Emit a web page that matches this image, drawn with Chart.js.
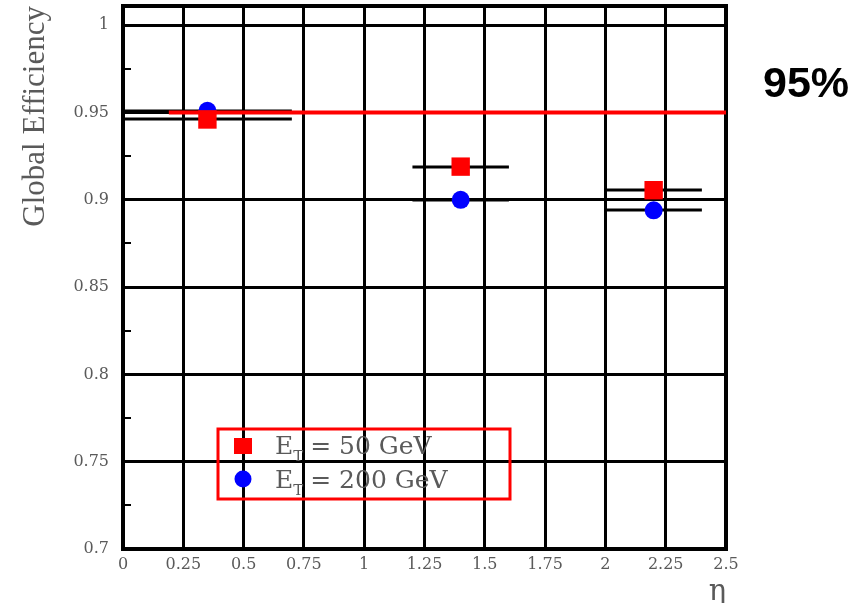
<!DOCTYPE html>
<html>
<head>
<meta charset="utf-8">
<script src="https://cdn.jsdelivr.net/npm/chart.js@4.4.1/dist/chart.umd.min.js"></script>
<style>
  html, body { margin: 0; padding: 0; background: #fff; }
  #wrap { width: 860px; height: 603px; }
</style>
</head>
<body>
<div id="wrap"><canvas id="effChart" width="860" height="603"></canvas></div>
<script>
// eta bins and their horizontal error bars
const etaCentres = [0.35, 1.4, 2.2];
const etaLow = [0.0, 1.2, 2.0];
const etaHigh = [0.7, 1.6, 2.4];

// global efficiency per bin
const eff50 = [0.946, 0.919, 0.9055];
const eff200 = [0.951, 0.9, 0.894];

// 95% reference line
const targetEff = 0.95;
const targetFrom = 0.19;
const targetTo = 2.5;

// axis ticks
const xTicks = [0, 0.25, 0.5, 0.75, 1, 1.25, 1.5, 1.75, 2, 2.25, 2.5];
const yTicks = [0.7, 0.75, 0.8, 0.85, 0.9, 0.95, 1];
const yMinor = [0.725, 0.775, 0.825, 0.875, 0.925, 0.975];

const serif = 'DejaVu Serif';
const grey = '#5a5a5a';

const toPoints = (ys) => etaCentres.map((x, i) => ({ x: x, y: ys[i] }));

// horizontal error bars, frame, minor ticks, legend and the 95% label
const extras = {
    id: 'extras',
    beforeDatasetsDraw(chart) {
        const ctx = chart.ctx;
        const xs = chart.scales.x, ys = chart.scales.y;
        ctx.save();
        ctx.strokeStyle = '#000';
        ctx.lineWidth = 3;
        [eff50, eff200].forEach(series => {
            series.forEach((v, i) => {
                const py = Math.round(ys.getPixelForValue(v));
                ctx.beginPath();
                ctx.moveTo(xs.getPixelForValue(etaLow[i]), py);
                ctx.lineTo(xs.getPixelForValue(etaHigh[i]), py);
                ctx.stroke();
            });
        });
        // minor ticks on the left axis
        ctx.lineWidth = 2;
        const a = chart.chartArea;
        yMinor.forEach(v => {
            const py = Math.round(ys.getPixelForValue(v));
            ctx.beginPath();
            ctx.moveTo(a.left, py);
            ctx.lineTo(a.left + 8, py);
            ctx.stroke();
        });
        // frame
        ctx.lineWidth = 4;
        ctx.strokeRect(a.left, a.top, a.right - a.left, a.bottom - a.top);
        ctx.restore();
    },
    afterDraw(chart) {
        const ctx = chart.ctx;
        ctx.save();
        // legend box
        ctx.strokeStyle = '#ff0000';
        ctx.lineWidth = 3;
        ctx.strokeRect(218, 429, 292, 70);
        ctx.fillStyle = '#ff0000';
        ctx.fillRect(234, 438, 18, 16);
        ctx.fillStyle = '#0000ff';
        ctx.beginPath();
        ctx.arc(243, 479, 8.5, 0, Math.PI * 2);
        ctx.fill();

        ctx.fillStyle = grey;
        ctx.textBaseline = 'alphabetic';
        const entry = (label, y) => {
            ctx.font = '25px "' + serif + '"';
            ctx.fillText('E', 275, y);
            const w = ctx.measureText('E').width;
            ctx.font = '15px "' + serif + '"';
            ctx.fillText('T', 275 + w, y + 7);
            ctx.font = '25px "' + serif + '"';
            ctx.fillText(' = ' + label, 275 + w + 9, y);
        };
        entry('50 GeV', 454);
        entry('200 GeV', 488);

        // 95% label
        ctx.fillStyle = '#000';
        ctx.font = 'bold 43px "Liberation Sans"';
        ctx.textAlign = 'center';
        ctx.textBaseline = 'middle';
        ctx.fillText(Math.round(targetEff * 100) + '%', 806, 85);
        ctx.restore();
    }
};

const effChart = document.getElementById('effChart');

new Chart(effChart, {
    type: 'scatter',
    data: {
        datasets: [
            {
                label: 'E_T = 50 GeV',
                data: toPoints(eff50),
                pointStyle: 'rect',
                pointRadius: 13,
                backgroundColor: '#ff0000',
                borderWidth: 0,
                order: 2
            },
            {
                label: 'E_T = 200 GeV',
                data: toPoints(eff200),
                pointStyle: 'circle',
                pointRadius: 9,
                backgroundColor: '#0000ff',
                borderWidth: 0,
                order: 3
            },
            {
                type: 'line',
                label: '95%',
                data: [{ x: targetFrom, y: targetEff }, { x: targetTo, y: targetEff }],
                borderColor: '#ff0000',
                borderWidth: 4,
                pointRadius: 0,
                order: 1
            }
        ]
    },
    options: {
        responsive: false,
        animation: false,
        layout: { autoPadding: false, padding: { left: 0, right: 134, top: 6, bottom: 0 } },
        plugins: {
            legend: { display: false },
            tooltip: { enabled: false }
        },
        scales: {
            x: {
                type: 'linear',
                min: 0,
                max: 2.5,
                afterBuildTicks: (s) => { s.ticks = xTicks.map(v => ({ value: v })); },
                afterFit: (s) => { s.height = 54; s.paddingLeft = 0; s.paddingRight = 0; },
                grid: { color: '#000', lineWidth: 3, drawTicks: false },
                border: { display: false },
                ticks: {
                    color: grey,
                    padding: 6,
                    font: { family: serif, size: 16 },
                    callback: (v) => String(v)
                },
                title: {
                    display: true,
                    text: 'η',
                    align: 'end',
                    color: grey,
                    padding: { top: 0, bottom: -7 },
                    font: { family: serif, size: 29 }
                }
            },
            y: {
                type: 'linear',
                min: 0.7,
                max: 1.011,
                afterBuildTicks: (s) => { s.ticks = yTicks.map(v => ({ value: v })); },
                afterFit: (s) => { s.width = 123; s.paddingTop = 0; s.paddingBottom = 0; },
                grid: { color: '#000', lineWidth: 3, drawTicks: false },
                border: { display: false },
                ticks: {
                    color: grey,
                    padding: 14,
                    font: { family: serif, size: 16 },
                    callback: (v) => String(v)
                },
                title: {
                    display: true,
                    text: 'Global Efficiency',
                    align: 'end',
                    color: grey,
                    padding: { top: 17, bottom: 0 },
                    font: { family: 'Liberation Serif', size: 31 }
                }
            }
        }
    },
    plugins: [extras]
});
</script>
</body>
</html>
